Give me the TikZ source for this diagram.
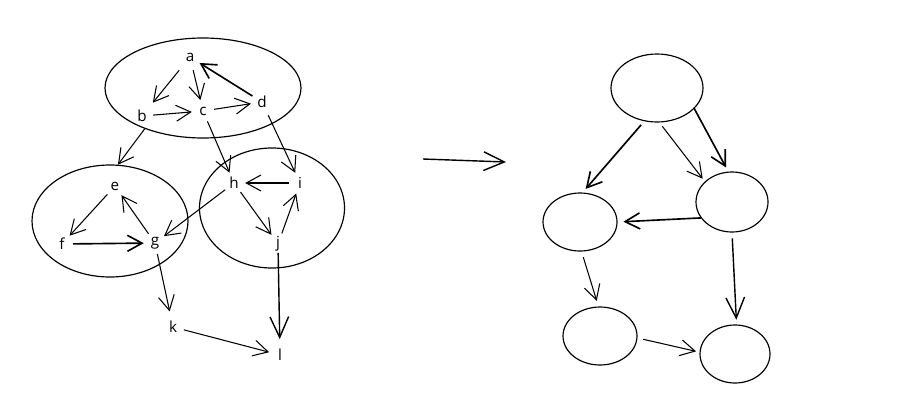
\documentclass[tikz,border=0pt]{standalone}
\usepackage{fontspec}
\setmainfont{Open Sans}
\usetikzlibrary{arrows.meta,shapes.geometric}
\begin{document}
\begin{tikzpicture}[x=0.03cm,y=-0.03cm,
  lbl/.style={circle,inner sep=0pt,minimum size=0.66cm,font=\fontsize{13}{15}\selectfont},
  grp/.style={ellipse,draw,line width=1pt,inner sep=0pt},
  arr/.style={-{Straight Barb[length=4.4mm,width=4.8mm]},line width=0.9pt},
  dbl/.style={arr,line width=1.4pt},
  bigarr/.style={-{Straight Barb[length=6.2mm,width=5.6mm]},line width=1.2pt}]
\useasboundingbox (0,0) rectangle (904,414);
% groups
\node[grp,minimum width=196*0.03cm,minimum height=100*0.03cm] (A) at (203,88) {};
\node[grp,minimum width=156*0.03cm,minimum height=112*0.03cm] (E) at (110,221) {};
\node[grp,minimum width=145*0.03cm,minimum height=120*0.03cm] (H) at (272,208) {};
% letters
\node[lbl] (a) at (190,57) {a};
\node[lbl] (b) at (142,116) {b};
\node[lbl] (c) at (203,111) {c};
\node[lbl] (d) at (262,102) {d};
\node[lbl] (e) at (115,186) {e};
\node[lbl] (f) at (62,244) {f};
\node[lbl] (g) at (155,243) {g};
\node[lbl] (h) at (234,183) {h};
\node[lbl] (i) at (300,183) {i};
\node[lbl] (j) at (278,244) {j};
\node[lbl] (k) at (173,327) {k};
\node[lbl] (l) at (280,355) {l};
% left edges
\draw[arr,shorten <=5,shorten >=5] (a) -- (b);
\draw[arr,shorten <=2] (a) -- (c);
\draw[dbl] (d) -- (a);
\draw[arr] (b) -- (c);
\draw[arr] (c) -- (d);
\draw[arr] (A.215) -- (E.82);
\draw[arr] (c) -- (h);
\draw[arr,shorten <=3] (d) -- (i);
\draw[arr] (i) -- (h);
\draw[arr] (h) -- (j);
\draw[arr] (j) -- (i);
\draw[arr] (h) -- (g);
\draw[arr] (e) -- (f);
\draw[arr] (g) -- (e);
\draw[dbl] (f) -- (g);
\draw[arr,shorten >=4] (g) -- (k);
\draw[bigarr,shorten <=-2,shorten >=4] (j) -- (l);
\draw[arr] (k) -- (l);
% transform arrow
\coordinate (p1) at (423,159);
\coordinate (p2) at (506,162);
\draw[bigarr] (p1) -- (p2);
% right graph
\node[grp,minimum width=92*0.03cm,minimum height=68*0.03cm] (R1) at (657,88) {};
\node[grp,minimum width=74*0.03cm,minimum height=58*0.03cm] (R2) at (580,222) {};
\node[grp,minimum width=72*0.03cm,minimum height=60*0.03cm] (R3) at (732,202) {};
\node[grp,minimum width=74*0.03cm,minimum height=58*0.03cm] (R4) at (600,336) {};
\node[grp,minimum width=70*0.03cm,minimum height=58*0.03cm] (R5) at (735,354) {};
\draw[dbl,shorten <=4,shorten >=4] (R1.249) -- (R2.85);
\draw[arr,shorten <=4,shorten >=3] (R1.274) -- (R3.143);
\draw[dbl,shorten <=-1,shorten >=4] (R1.331) -- (R3.97);
\draw[dbl,shorten >=5] (R3.207) -- (R2.0);
\draw[arr,shorten <=5,shorten >=5] (R2.273) -- (R4.93);
\draw[bigarr,shorten <=5,shorten >=4] (R3.270) -- (R5.87);
\draw[arr,shorten <=5,shorten >=3] (R4.357) -- (R5.177);
\end{tikzpicture}
\end{document}
